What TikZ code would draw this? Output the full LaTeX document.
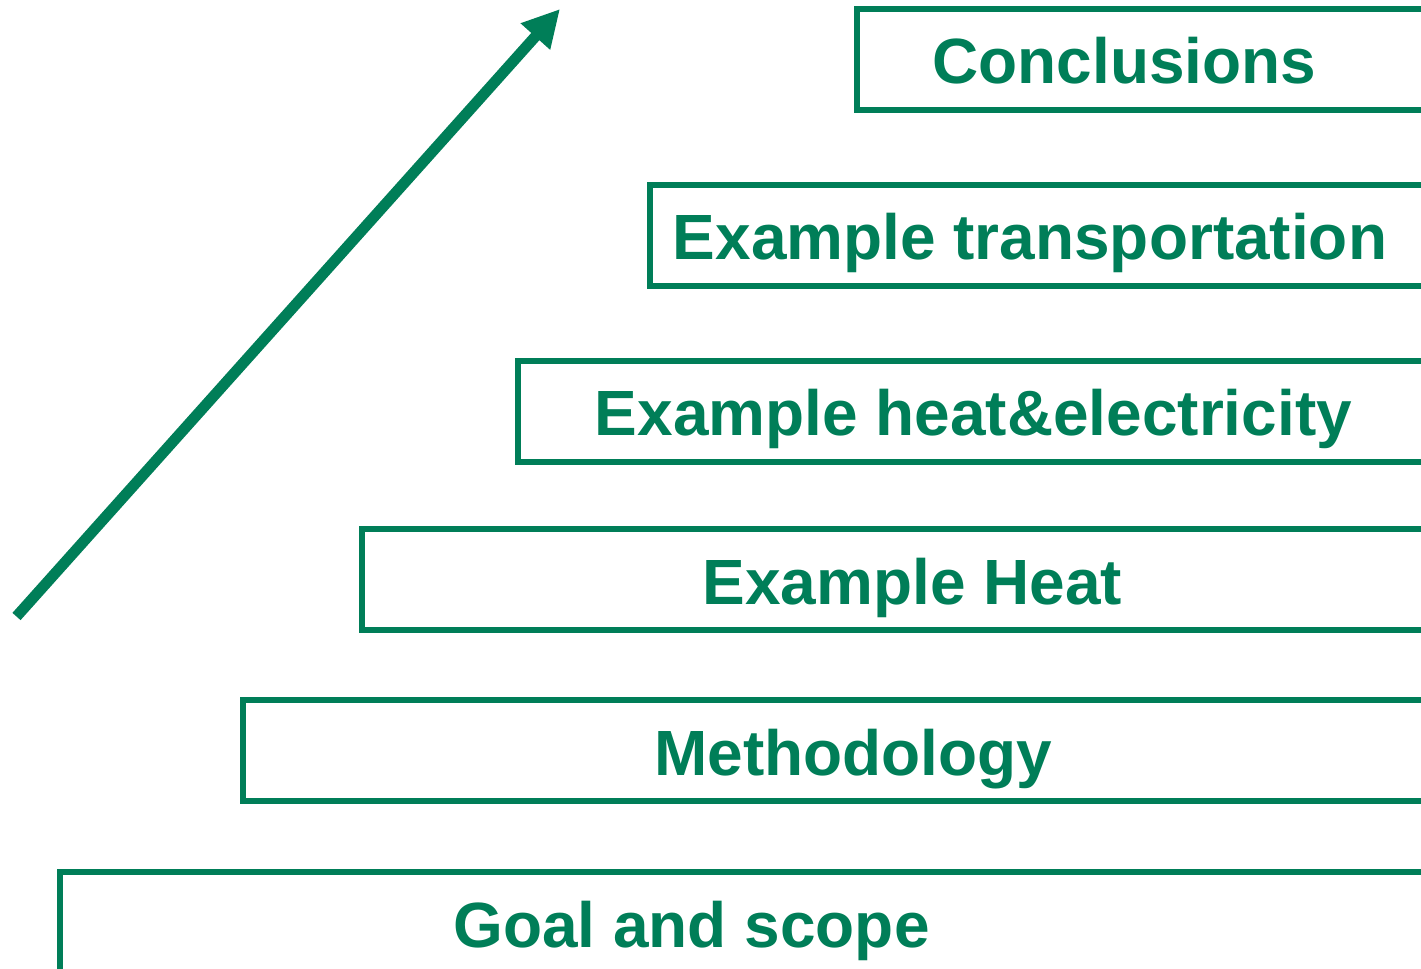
\documentclass[tikz,border=0pt]{standalone}
\usepackage{fontspec}
\setmainfont{Liberation Sans}
\usepackage{tikz}
\usetikzlibrary{arrows.meta}
\definecolor{stepgreen}{RGB}{0, 126, 88}

\tikzset{
  stepbox/.style={draw=stepgreen, line width=3.4pt},
  steplabel/.style={text=stepgreen, anchor=base, inner sep=0pt,
    font=\fontsize{36.4pt}{40pt}\selectfont\bfseries},
  risearrow/.style={stepgreen, line width=6.2pt,
    -{Triangle[length=0.74cm, width=0.74cm]}}
}

\begin{document}
\begin{tikzpicture}[x=0.02cm, y=-0.02cm]
  \useasboundingbox (0, 0) rectangle (1421, 969);
  \clip (0, 0) rectangle (1421, 969);

  % Stairs, bottom to top
  % left edge / top edge / text centre / name / text
  \foreach \xl/\yt/\xc/\nm/\txt in {
      60/872/691.5/goal/Goal and scope,
      243/700/853.5/method/Methodology,
      362/529/912.5/heat/Example Heat,
      518/361/973.5/heatel/Example heat\&electricity,
      650/185/1030/transp/Example transportation,
      857/9/1124.5/concl/Conclusions} {
    \pgfmathsetmacro{\yb}{\yt + 101};
    \pgfmathsetmacro{\ybase}{\yt + 75};

    \draw[stepbox] (\xl, \yt) rectangle (1440, \yb);
    \node[steplabel] (\nm) at (\xc, \ybase) {\txt};
  }

  % Rising arrow
  \coordinate (arrowstart) at (16.5, 616.5);
  \coordinate (arrowtip) at (560, 9);
  \draw[risearrow] (arrowstart) -- (arrowtip);

\end{tikzpicture}
\end{document}
